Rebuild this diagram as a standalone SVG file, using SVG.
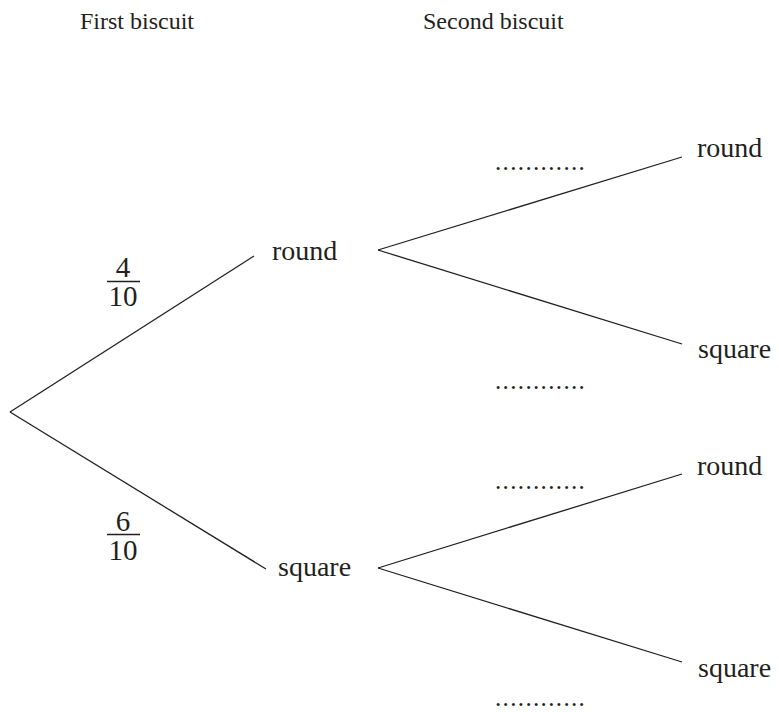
<svg xmlns="http://www.w3.org/2000/svg" width="779" height="712" viewBox="0 0 779 712">
<style>
text{font-family:"Liberation Serif","Times New Roman",serif;fill:#231f20}
.hd{font-size:24px}
.lb{font-size:28px}
.fr{font-size:29px;text-anchor:middle}
.dt{font-size:25px;letter-spacing:1.35px}
line{stroke:#231f20;stroke-width:1.3;fill:none}
</style>
<rect width="779" height="712" fill="#fff"/>
<g id="headers">
<text class="hd" x="80" y="29">First biscuit</text>
<text class="hd" x="423" y="29">Second biscuit</text>
</g>
<g id="connectors">
<line x1="10" y1="412" x2="254" y2="256"/>
<line x1="10" y1="412" x2="266" y2="569"/>
<line x1="378" y1="250" x2="682" y2="157"/>
<line x1="378" y1="250" x2="682" y2="344"/>
<line x1="378" y1="568" x2="682" y2="474"/>
<line x1="378" y1="568" x2="682" y2="662"/>
</g>
<g id="frac-round">
<text class="fr" x="123" y="277">4</text>
<line x1="107" y1="281.5" x2="140" y2="281.5"/>
<text class="fr" x="123" y="306">10</text>
</g>
<g id="frac-square">
<text class="fr" x="123" y="531">6</text>
<line x1="107" y1="534.5" x2="140" y2="534.5"/>
<text class="fr" x="123" y="560">10</text>
</g>
<g id="node-round1"><text class="lb" x="272" y="260">round</text></g>
<g id="node-square1"><text class="lb" x="278" y="576">square</text></g>
<g id="node-rr"><text class="lb" x="697" y="157">round</text></g>
<g id="node-rs"><text class="lb" x="698" y="358">square</text></g>
<g id="node-sr"><text class="lb" x="697" y="475">round</text></g>
<g id="node-ss"><text class="lb" x="698" y="677">square</text></g>
<g id="blanks">
<text class="dt" x="495" y="170">............</text>
<text class="dt" x="495" y="389">............</text>
<text class="dt" x="495" y="489">............</text>
<text class="dt" x="495" y="706">............</text>
</g>
</svg>
